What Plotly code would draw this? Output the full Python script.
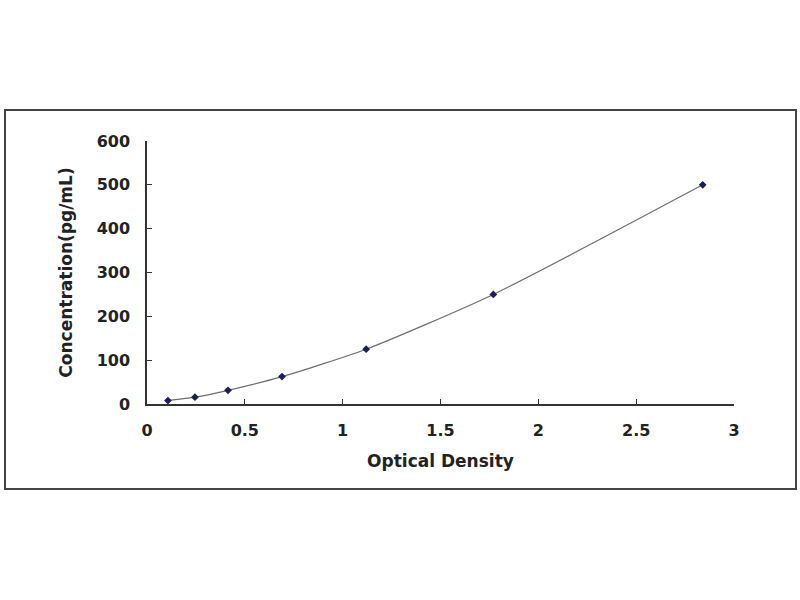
import plotly.graph_objects as go

optical_density = [0.107, 0.245, 0.414, 0.69, 1.12, 1.77, 2.84]
concentration = [7.8, 15.6, 31.25, 62.5, 125, 250, 500]
x_ticks = [0, 0.5, 1, 1.5, 2, 2.5, 3]
x_tick_labels = ["0", "0.5", "1", "1.5", "2", "2.5", "3"]
y_ticks = [0, 100, 200, 300, 400, 500, 600]

W, H = 800, 600
L, R, T, B = 147, 66, 141, 196
pw, ph = W - L - R, H - T - B

fig = go.Figure()
fig.add_trace(go.Scatter(
    x=optical_density, y=concentration, mode="lines",
    line=dict(color="#6e6e6e", width=1.2, shape="spline", smoothing=0.6),
    hoverinfo="skip", showlegend=False))
fig.add_trace(go.Scatter(
    x=optical_density, y=concentration, mode="markers",
    marker=dict(symbol="diamond", size=6, color="#1a1f5c"),
    showlegend=False))

font_family = "DejaVu Sans"
fig.update_layout(
    width=W, height=H,
    margin=dict(l=L, r=R, t=T, b=B),
    paper_bgcolor="white", plot_bgcolor="white",
    xaxis=dict(range=[0, 3], tickvals=x_ticks, ticktext=x_tick_labels,
               showgrid=False, zeroline=False, showline=True,
               linecolor="#333", linewidth=1.5, ticks="inside", ticklen=5,
               tickcolor="#333", ticklabelstandoff=11,
               tickfont=dict(family=font_family, size=16, color="#222", weight="bold"),
               title=dict(text="Optical Density", standoff=16,
                          font=dict(family=font_family, size=17, color="#222", weight="bold"))),
    yaxis=dict(range=[0, 600], tickvals=y_ticks,
               showgrid=False, zeroline=False, showline=True,
               linecolor="#333", linewidth=1.5, ticks="inside", ticklen=5,
               tickcolor="#333", ticklabelstandoff=12,
               tickfont=dict(family=font_family, size=16, color="#222", weight="bold"),
               title=dict(text="Concentration(pg/mL)", standoff=20,
                          font=dict(family=font_family, size=17, color="#222", weight="bold"))),
    shapes=[dict(type="rect", xref="paper", yref="paper",
                 x0=(5 - L) / pw, x1=(796 - L) / pw,
                 y0=(H - B - 489) / ph, y1=(H - B - 110) / ph,
                 line=dict(color="#444", width=2), fillcolor="rgba(0,0,0,0)")],
)

fig.write_html("out.html", config={"displayModeBar": False},
               post_script="document.body.style.margin='0';document.body.style.overflow='hidden';")
